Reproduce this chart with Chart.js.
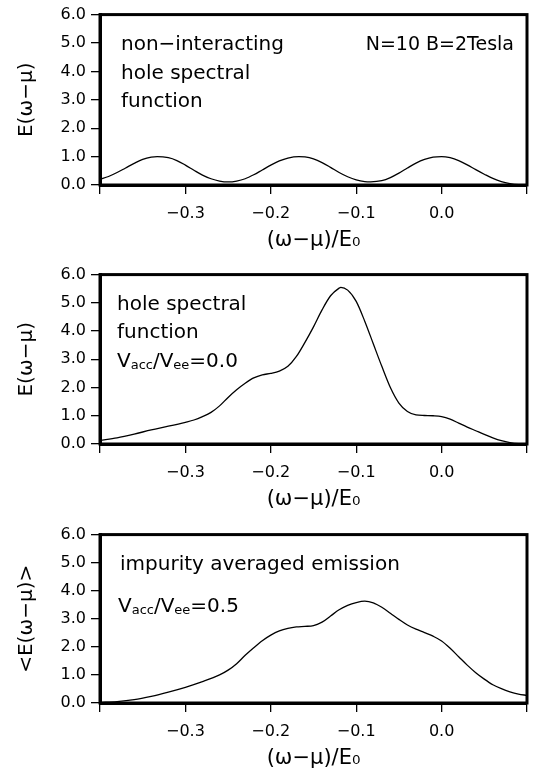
<!DOCTYPE html>
<html>
<head>
<meta charset="utf-8">
<script src="https://cdn.jsdelivr.net/npm/chart.js@4.4.0/dist/chart.umd.min.js"></script>
<style>
  body { margin: 0; background: #fff; }
  .panel { position: absolute; left: 0; width: 537px; height: 260px; }
</style>
</head>
<body>
<div class="panel" style="top:0"><canvas id="chart1"></canvas></div>
<div class="panel" style="top:260px"><canvas id="chart2"></canvas></div>
<div class="panel" style="top:520px"><canvas id="chart3"></canvas></div>
<script>
// tick values and labels shared by all three panels
var xTicks = [-0.4, -0.3, -0.2, -0.1, 0.0, 0.1];
var xTickLabels = ['', '\u22120.3', '\u22120.2', '\u22120.1', '0.0', ''];
var yTicks = [0, 1, 2, 3, 4, 5, 6];
var yTickLabels = ['0.0', '1.0', '2.0', '3.0', '4.0', '5.0', '6.0'];

// non-interacting hole spectral function
var freeX = [-0.40, -0.39, -0.38, -0.37, -0.36, -0.35, -0.34, -0.333, -0.32, -0.31, -0.30, -0.29, -0.28, -0.27, -0.26, -0.25,
  -0.24, -0.23, -0.22, -0.21, -0.20, -0.19, -0.18, -0.167, -0.16, -0.15, -0.14, -0.13, -0.12, -0.11, -0.10, -0.09, -0.083,
  -0.07, -0.06, -0.05, -0.04, -0.03, -0.02, -0.01, 0.00, 0.01, 0.02, 0.03, 0.04, 0.05, 0.06, 0.07, 0.08, 0.09, 0.10];
var freeY = [0.20, 0.30, 0.44, 0.60, 0.76, 0.90, 0.98, 1.00, 0.96, 0.86, 0.70, 0.52, 0.35, 0.22, 0.14, 0.11,
  0.14, 0.22, 0.36, 0.53, 0.70, 0.85, 0.95, 1.00, 0.99, 0.92, 0.79, 0.62, 0.44, 0.29, 0.18, 0.12, 0.11,
  0.15, 0.26, 0.42, 0.60, 0.77, 0.90, 0.98, 1.00, 0.96, 0.86, 0.71, 0.54, 0.38, 0.23, 0.12, 0.05, 0.01, 0.00];

// hole spectral function, Vacc/Vee = 0.0
var holeX = [-0.40, -0.38, -0.36, -0.34, -0.32, -0.30, -0.29, -0.28, -0.27, -0.26, -0.25, -0.24, -0.23, -0.22, -0.21,
  -0.20, -0.19, -0.18, -0.17, -0.16, -0.15, -0.14, -0.13, -0.12, -0.118, -0.11, -0.10, -0.09, -0.08, -0.07, -0.06,
  -0.05, -0.04, -0.03, -0.02, -0.01, 0.00, 0.01, 0.02, 0.03, 0.04, 0.05, 0.06, 0.07, 0.08, 0.09, 0.10];
var holeY = [0.13, 0.22, 0.35, 0.50, 0.63, 0.77, 0.85, 0.97, 1.12, 1.35, 1.65, 1.92, 2.15, 2.34, 2.45,
  2.50, 2.58, 2.75, 3.10, 3.60, 4.15, 4.75, 5.25, 5.52, 5.55, 5.45, 5.05, 4.35, 3.55, 2.75, 2.00,
  1.45, 1.15, 1.03, 1.01, 1.00, 0.97, 0.88, 0.74, 0.60, 0.47, 0.34, 0.22, 0.12, 0.05, 0.01, 0.00];

// impurity averaged emission, Vacc/Vee = 0.5
var emisX = [-0.40, -0.38, -0.36, -0.34, -0.32, -0.30, -0.28, -0.26, -0.25, -0.24, -0.23, -0.22, -0.21, -0.20, -0.19,
  -0.18, -0.17, -0.16, -0.15, -0.14, -0.13, -0.12, -0.11, -0.10, -0.09, -0.08, -0.07, -0.06, -0.05, -0.04, -0.03,
  -0.02, -0.01, 0.00, 0.01, 0.02, 0.03, 0.04, 0.05, 0.06, 0.07, 0.08, 0.09, 0.10];
var emisY = [0.02, 0.05, 0.12, 0.24, 0.39, 0.56, 0.76, 1.00, 1.17, 1.40, 1.70, 1.97, 2.22, 2.42, 2.57,
  2.66, 2.71, 2.73, 2.76, 2.88, 3.10, 3.32, 3.48, 3.58, 3.63, 3.57, 3.41, 3.20, 2.98, 2.78, 2.63,
  2.51, 2.38, 2.21, 1.95, 1.65, 1.35, 1.08, 0.85, 0.65, 0.51, 0.40, 0.32, 0.27];

var FONT = 'DejaVu Sans';

function toPoints(xs, ys) {
  return xs.map(function (x, i) { return { x: x, y: ys[i] }; });
}

// thick box round the plot area
var framePlugin = {
  id: 'frame',
  afterDraw: function (chart) {
    var a = chart.chartArea;
    var ctx = chart.ctx;
    ctx.save();
    ctx.strokeStyle = '#000';
    ctx.lineWidth = 3;
    ctx.strokeRect(a.left, a.top, a.right - a.left, a.bottom - a.top);
    ctx.restore();
  }
};

// text inside the panels, with small subscripts for V_acc / V_ee
var notesPlugin = {
  id: 'notes',
  afterDraw: function (chart, args, opts) {
    var ctx = chart.ctx;
    var a = chart.chartArea;
    var ys = chart.scales.y;
    ctx.save();
    ctx.fillStyle = '#000';
    ctx.textBaseline = 'alphabetic';
    (opts.lines || []).forEach(function (line) {
      var size = line.size || 20;
      var parts = line.parts;
      var widths = parts.map(function (p) {
        ctx.font = (p.sub ? 13 : size) + 'px "' + FONT + '"';
        return ctx.measureText(p.t).width;
      });
      var total = widths.reduce(function (s, w) { return s + w; }, 0);
      var x = line.right ? a.right - line.dx - total : a.left + line.dx;
      var y = ys.getPixelForValue(line.at) + size * 0.36;
      parts.forEach(function (p, i) {
        ctx.font = (p.sub ? 13 : size) + 'px "' + FONT + '"';
        ctx.fillText(p.t, x, y + (p.sub ? 2 : 0));
        x += widths[i];
      });
    });
    ctx.restore();
  }
};

function makeChart(id, xs, ys, yTitle, topPad, xHeight, notes) {
  var ctx = document.getElementById(id).getContext('2d');
  return new Chart(ctx, {
    type: 'scatter',
    data: {
      datasets: [{
        data: toPoints(xs, ys),
        showLine: true,
        borderColor: '#000',
        borderWidth: 1.3,
        pointRadius: 0,
        cubicInterpolationMode: 'monotone'
      }]
    },
    options: {
      responsive: true,
      maintainAspectRatio: false,
      animation: false,
      events: [],
      layout: { padding: { top: topPad, right: 5, left: 0, bottom: 0 } },
      plugins: {
        legend: { display: false },
        tooltip: { enabled: false },
        notes: { lines: notes }
      },
      scales: {
        x: {
          type: 'linear',
          min: -0.4,
          max: 0.1,
          afterBuildTicks: function (s) { s.ticks = xTicks.map(function (v) { return { value: v }; }); },
          afterFit: function (s) { s.height = xHeight; },
          grid: { display: true, drawOnChartArea: false, drawTicks: true, tickLength: 9, color: '#000', lineWidth: 1.3 },
          border: { display: true, color: '#000', width: 3 },
          ticks: {
            color: '#000', padding: 10, maxRotation: 0, autoSkip: false,
            font: { family: FONT, size: 16 },
            callback: function (v, i) { return xTickLabels[i]; }
          },
          title: {
            display: true, text: '(\u03c9\u2212\u03bc)/E\u2080', color: '#000',
            font: { family: FONT, size: 21 }, padding: { top: 0, bottom: xHeight - 56 - 12.6 }
          }
        },
        y: {
          type: 'linear',
          min: 0,
          max: 6,
          afterBuildTicks: function (s) { s.ticks = yTicks.map(function (v) { return { value: v }; }); },
          afterFit: function (s) { s.width = 100; },
          grid: { display: true, drawOnChartArea: false, drawTicks: true, tickLength: 9, color: '#000', lineWidth: 1.3 },
          border: { display: true, color: '#000', width: 3 },
          ticks: {
            color: '#000', padding: 5,
            font: { family: FONT, size: 16 },
            callback: function (v, i) { return yTickLabels[i]; }
          },
          title: {
            display: true, text: yTitle, color: '#000',
            font: { family: FONT, size: 20 }, padding: { top: 15, bottom: 0 }
          }
        }
      }
    },
    plugins: [framePlugin, notesPlugin]
  });
}

var vRatio = function (val) {
  return [{ t: 'V' }, { t: 'acc', sub: true }, { t: '/V' }, { t: 'ee', sub: true }, { t: '=' + val }];
};

makeChart('chart1', freeX, freeY, 'E(\u03c9\u2212\u03bc)', 12, 75, [
  { at: 5.0, dx: 21, parts: [{ t: 'non\u2212interacting' }] },
  { at: 4.0, dx: 21, parts: [{ t: 'hole spectral' }] },
  { at: 3.0, dx: 21, parts: [{ t: 'function' }] },
  { at: 5.0, dx: 13, right: true, size: 19, parts: [{ t: 'N=10 B=2Tesla' }] }
]);

makeChart('chart2', holeX, holeY, 'E(\u03c9\u2212\u03bc)', 13, 76, [
  { at: 5.0, dx: 17, parts: [{ t: 'hole spectral' }] },
  { at: 4.0, dx: 17, parts: [{ t: 'function' }] },
  { at: 3.0, dx: 17, parts: vRatio('0.0') }
]);

makeChart('chart3', emisX, emisY, '<E(\u03c9\u2212\u03bc)>', 11, 77, [
  { at: 5.0, dx: 20, parts: [{ t: 'impurity averaged emission' }] },
  { at: 3.5, dx: 18, parts: vRatio('0.5') }
]);
</script>
</body>
</html>
